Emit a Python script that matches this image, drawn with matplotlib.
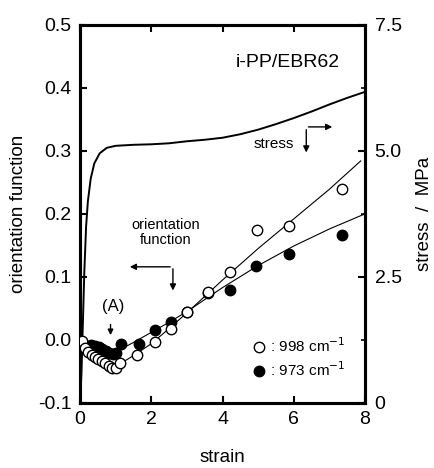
import matplotlib
matplotlib.use('Agg')
import matplotlib.pyplot as plt
from matplotlib.ticker import MultipleLocator, FixedLocator, FormatStrFormatter

plt.rcParams['font.family'] = ['Liberation Sans', 'DejaVu Sans']
plt.rcParams['axes.unicode_minus'] = False

# orientation function, 998 cm-1 band (open circles)
strain_998 = [0.05, 0.14, 0.23, 0.33, 0.42, 0.51, 0.61, 0.70, 0.80, 0.90, 1.00, 1.12,
              1.60, 2.10, 2.55, 3.00, 3.60, 4.20, 4.96, 5.88, 7.35]
f_998 = [-0.002, -0.013, -0.019, -0.024, -0.027, -0.031, -0.034, -0.037, -0.041, -0.044,
         -0.044, -0.036, -0.024, -0.003, 0.017, 0.045, 0.076, 0.107, 0.174, 0.181, 0.240]

# orientation function, 973 cm-1 band (filled circles)
strain_973 = [0.30, 0.42, 0.52, 0.62, 0.72, 0.82, 0.92, 1.02, 1.15, 1.65, 2.10, 2.55,
              3.00, 3.60, 4.20, 4.95, 5.88, 7.35]
f_973 = [-0.008, -0.010, -0.012, -0.015, -0.018, -0.021, -0.022, -0.020, -0.007, -0.006,
         0.016, 0.028, 0.045, 0.075, 0.080, 0.118, 0.137, 0.167]

# guide lines through each data set
fit_strain_998 = [1.0, 1.5, 2.0, 2.5, 3.0, 4.0, 5.0, 6.0, 7.0, 7.88]
fit_998 = [-0.042, -0.025, -0.006, 0.018, 0.043, 0.095, 0.145, 0.192, 0.239, 0.284]
fit_strain_973 = [1.1, 1.5, 2.0, 2.5, 3.0, 4.0, 5.0, 6.0, 7.0, 8.0]
fit_973 = [-0.016, -0.004, 0.012, 0.028, 0.045, 0.083, 0.118, 0.149, 0.176, 0.200]

# stress-strain curve (MPa)
strain_ss = [0.0, 0.04, 0.08, 0.12, 0.17, 0.22, 0.30, 0.40, 0.55, 0.75, 1.0, 1.5, 2.0,
             2.5, 3.0, 3.5, 4.0, 4.5, 5.0, 5.5, 6.0, 6.5, 7.0, 7.5, 8.0]
stress = [0.0, 0.6, 1.6, 2.6, 3.5, 4.0, 4.45, 4.75, 4.95, 5.06, 5.10, 5.12, 5.13,
          5.15, 5.19, 5.22, 5.26, 5.33, 5.42, 5.53, 5.65, 5.78, 5.92, 6.05, 6.17]

fig = plt.figure(figsize=(4.35, 4.68), dpi=100)
ax = fig.add_axes([0.184, 0.139, 0.655, 0.808])
ax2 = ax.twinx()

ax2.plot(strain_ss, stress, color='black', lw=1.4)

ax.plot(fit_strain_998, fit_998, color='black', lw=0.8)
ax.plot(fit_strain_973, fit_973, color='black', lw=0.8)
ax.plot(strain_973, f_973, 'o', color='black', ms=7.5, mec='black', mfc='black',
        label=' : 973 cm$^{-1}$', zorder=3)
ax.plot(strain_998, f_998, 'o', color='black', ms=7.5, mec='black', mfc='white', mew=1.0,
        label=' : 998 cm$^{-1}$', zorder=4)

ax.set_xlim(0, 8)
ax.set_ylim(-0.1, 0.5)
ax2.set_ylim(0, 7.5)
ax.set_zorder(ax2.get_zorder() + 1)
ax.patch.set_visible(False)

ax.xaxis.set_major_locator(FixedLocator([0, 2, 4, 6, 8]))
ax.yaxis.set_major_locator(MultipleLocator(0.1))
ax.yaxis.set_major_formatter(FormatStrFormatter('%.1f'))
ax2.yaxis.set_major_locator(FixedLocator([0, 2.5, 5.0, 7.5]))
ax2.yaxis.set_minor_locator(FixedLocator([1.25, 3.75, 6.25]))
ax2.set_yticklabels(['0', '2.5', '5.0', '7.5'])

ax.tick_params(axis='both', direction='in', length=5, width=1.5, labelsize=14, pad=6,
               top=True)
ax2.tick_params(axis='y', which='major', direction='in', length=5, width=1.5,
                labelsize=14, pad=7)
ax2.tick_params(axis='y', which='minor', direction='in', length=3, width=1.2)
for a in (ax, ax2):
    for s in a.spines.values():
        s.set_linewidth(2.2)

ax.set_xlabel('strain', fontsize=13.5, labelpad=15)
ax.set_ylabel('orientation function', fontsize=13.5, labelpad=8)
ax2.set_ylabel('stress  /  MPa', fontsize=13.5, labelpad=10)

ax.text(0.73, 0.90, 'i-PP/EBR62', transform=ax.transAxes, fontsize=14, ha='center',
        va='center')
ax.text(0.68, 0.686, 'stress', transform=ax.transAxes, fontsize=11, ha='center',
        va='center')
ax.annotate('', xy=(0.794, 0.655), xytext=(0.794, 0.73), xycoords='axes fraction',
            arrowprops=dict(arrowstyle='-|>', color='black', lw=1, mutation_scale=9))
ax.annotate('', xy=(0.895, 0.73), xytext=(0.792, 0.73), xycoords='axes fraction',
            arrowprops=dict(arrowstyle='-|>', color='black', lw=1, mutation_scale=9))

ax.text(0.30, 0.45, 'orientation\nfunction', transform=ax.transAxes, fontsize=10.5,
        ha='center', va='center', linespacing=1.1)
ax.annotate('', xy=(0.165, 0.36), xytext=(0.326, 0.36), xycoords='axes fraction',
            arrowprops=dict(arrowstyle='-|>', color='black', lw=1, mutation_scale=9))
ax.annotate('', xy=(0.326, 0.29), xytext=(0.326, 0.362), xycoords='axes fraction',
            arrowprops=dict(arrowstyle='-|>', color='black', lw=1, mutation_scale=9))

ax.text(0.115, 0.255, '(A)', transform=ax.transAxes, fontsize=12, ha='center',
        va='center')
ax.annotate('', xy=(0.107, 0.172), xytext=(0.107, 0.215), xycoords='axes fraction',
            arrowprops=dict(arrowstyle='-|>', color='black', lw=1, mutation_scale=8))

h, l = ax.get_legend_handles_labels()
ax.legend(h[::-1], l[::-1], loc='lower right', bbox_to_anchor=(0.97, 0.035),
          frameon=False, fontsize=11, handletextpad=0.0, handlelength=1.0,
          labelspacing=0.35, borderpad=0.2)

fig.savefig('out.png', dpi=100)
